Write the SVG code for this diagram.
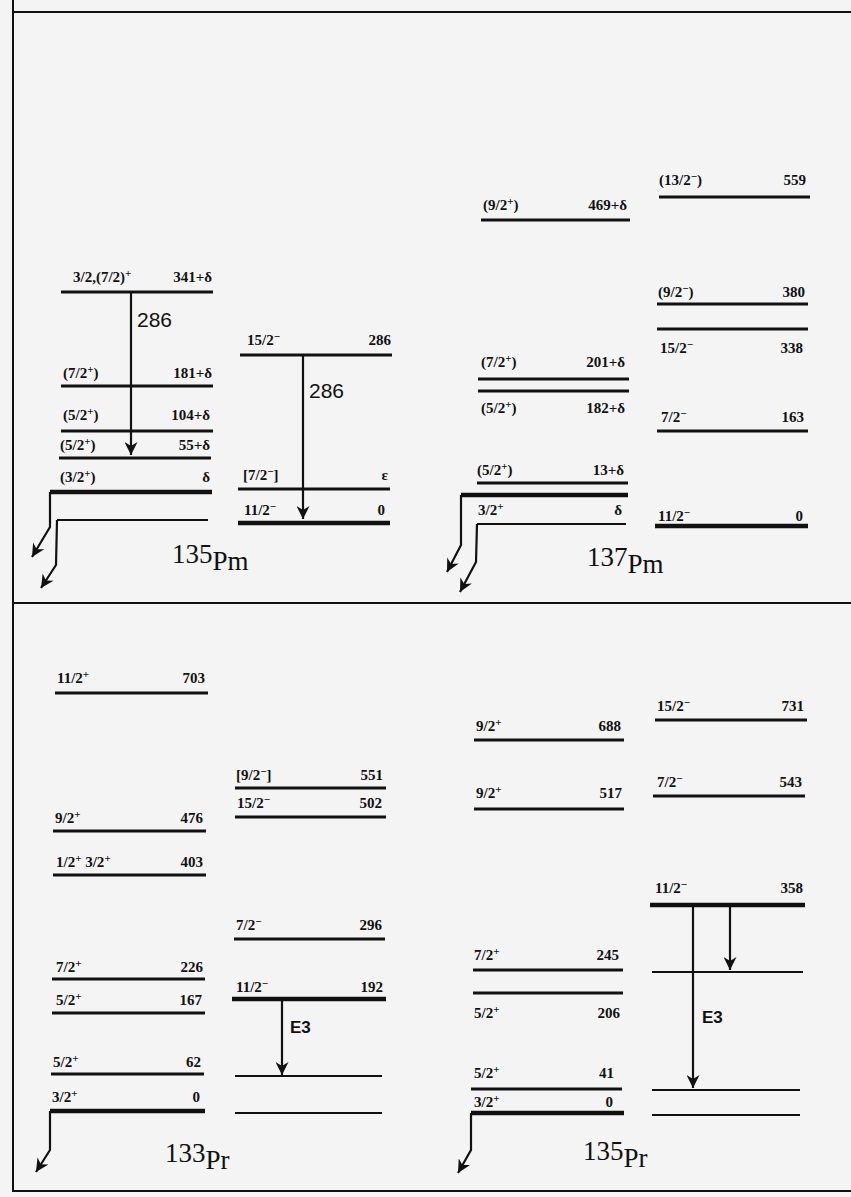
<svg xmlns="http://www.w3.org/2000/svg" width="851" height="1197" viewBox="0 0 851 1197">
<style>
.bg{fill:#f4f4f4}
.frame{stroke:#111;stroke-width:2;fill:none}
.lv{stroke:#111;stroke-width:3;fill:none}
.gs{stroke:#111;stroke-width:4.5;fill:none}
.tn{stroke:#111;stroke-width:2;fill:none}
.tr{stroke:#111;stroke-width:2.2;fill:none}
.lb{font-family:"Liberation Serif",serif;font-size:15px;font-weight:bold;fill:#111}
.en{font-family:"Liberation Serif",serif;font-size:15px;font-weight:bold;fill:#111;text-anchor:end}
.ga{font-family:"Liberation Sans",sans-serif;font-size:21px;fill:#111}
.e3{font-family:"Liberation Sans",sans-serif;font-size:17px;font-weight:bold;fill:#111}
.iso{font-family:"Liberation Serif",serif;font-size:27px;fill:#111}
.s{font-size:11px}
</style>
<defs>
<marker id="ah" viewBox="0 0 10 10" refX="10" refY="5" markerWidth="16" markerHeight="13" markerUnits="userSpaceOnUse" orient="auto">
<path d="M0,0 L10,5 L0,10 L3,5 z" fill="#111"/>
</marker>
</defs>
<rect class="bg" x="0" y="0" width="851" height="1197"/>
<g id="frame">
<line class="frame" x1="13" y1="12" x2="851" y2="12"/>
<line class="frame" x1="13" y1="0" x2="13" y2="1192"/>
<line class="frame" x1="13" y1="603" x2="851" y2="603"/>
<line class="frame" x1="13" y1="1191" x2="851" y2="1191"/>
</g>

<!-- 135Pm -->
<g id="pm135-left">
<line class="lv" x1="61" y1="292" x2="213" y2="292"/>
<text class="lb" x="73" y="282">3/2,(7/2)<tspan class="s" dy="-5">+</tspan></text>
<text class="en" x="212" y="282">341+δ</text>
<line class="lv" x1="61" y1="386" x2="213" y2="386"/>
<text class="lb" x="63" y="378">(7/2<tspan class="s" dy="-5">+</tspan><tspan dy="5">)</tspan></text>
<text class="en" x="212" y="378">181+δ</text>
<line class="lv" x1="61" y1="431" x2="213" y2="431"/>
<text class="lb" x="63" y="420">(5/2<tspan class="s" dy="-5">+</tspan><tspan dy="5">)</tspan></text>
<text class="en" x="210" y="420">104+δ</text>
<line class="lv" x1="59" y1="458" x2="211" y2="458"/>
<text class="lb" x="60" y="450">(5/2<tspan class="s" dy="-5">+</tspan><tspan dy="5">)</tspan></text>
<text class="en" x="210" y="450">55+δ</text>
<line class="gs" x1="50" y1="492" x2="212" y2="492"/>
<text class="lb" x="60" y="482">(3/2<tspan class="s" dy="-5">+</tspan><tspan dy="5">)</tspan></text>
<text class="en" x="210" y="482">δ</text>
<line class="tn" x1="57" y1="520" x2="208" y2="520"/>
</g>
<g id="pm135-right">
<line class="lv" x1="240" y1="355" x2="392" y2="355"/>
<text class="lb" x="247" y="345">15/2<tspan class="s" dy="-5">−</tspan></text>
<text class="en" x="391" y="345">286</text>
<line class="lv" x1="238" y1="489" x2="390" y2="489"/>
<text class="lb" x="243" y="480">[7/2<tspan class="s" dy="-5">−</tspan><tspan dy="5">]</tspan></text>
<text class="en" x="388" y="480">ε</text>
<line class="gs" x1="238" y1="523" x2="390" y2="523"/>
<text class="lb" x="244" y="515">11/2<tspan class="s" dy="-5">−</tspan></text>
<text class="en" x="385" y="515">0</text>
</g>
<g id="pm135-label">
<text class="iso" x="172" y="563">135<tspan dy="7">Pm</tspan></text>
</g>

<!-- 137Pm -->
<g id="pm137-left">
<line class="lv" x1="481" y1="220" x2="630" y2="220"/>
<text class="lb" x="483" y="210">(9/2<tspan class="s" dy="-5">+</tspan><tspan dy="5">)</tspan></text>
<text class="en" x="627" y="210">469+δ</text>
<line class="lv" x1="478" y1="379" x2="629" y2="379"/>
<line class="lv" x1="478" y1="391" x2="629" y2="391"/>
<text class="lb" x="481" y="367">(7/2<tspan class="s" dy="-5">+</tspan><tspan dy="5">)</tspan></text>
<text class="en" x="625" y="367">201+δ</text>
<text class="lb" x="481" y="413">(5/2<tspan class="s" dy="-5">+</tspan><tspan dy="5">)</tspan></text>
<text class="en" x="625" y="413">182+δ</text>
<line class="lv" x1="477" y1="483" x2="628" y2="483"/>
<text class="lb" x="477" y="475">(5/2<tspan class="s" dy="-5">+</tspan><tspan dy="5">)</tspan></text>
<text class="en" x="624" y="475">13+δ</text>
<line class="gs" x1="461" y1="495" x2="628" y2="495"/>
<text class="lb" x="478" y="515">3/2<tspan class="s" dy="-5">+</tspan></text>
<text class="en" x="622" y="515">δ</text>
<line class="tn" x1="477" y1="524" x2="626" y2="524"/>
</g>
<g id="pm137-right">
<line class="lv" x1="659" y1="197" x2="810" y2="197"/>
<text class="lb" x="659" y="185">(13/2<tspan class="s" dy="-5">−</tspan><tspan dy="5">)</tspan></text>
<text class="en" x="806" y="185">559</text>
<line class="lv" x1="657" y1="304" x2="808" y2="304"/>
<text class="lb" x="658" y="297">(9/2<tspan class="s" dy="-5">−</tspan><tspan dy="5">)</tspan></text>
<text class="en" x="805" y="297">380</text>
<line class="lv" x1="657" y1="329" x2="808" y2="329"/>
<text class="lb" x="660" y="353">15/2<tspan class="s" dy="-5">−</tspan></text>
<text class="en" x="803" y="353">338</text>
<line class="lv" x1="657" y1="431" x2="808" y2="431"/>
<text class="lb" x="661" y="422">7/2<tspan class="s" dy="-5">−</tspan></text>
<text class="en" x="804" y="422">163</text>
<line class="gs" x1="655" y1="526" x2="808" y2="526"/>
<text class="lb" x="658" y="521">11/2<tspan class="s" dy="-5">−</tspan></text>
<text class="en" x="803" y="521">0</text>
</g>
<g id="pm137-label">
<text class="iso" x="587" y="566">137<tspan dy="7">Pm</tspan></text>
</g>

<!-- 133Pr -->
<g id="pr133-left">
<line class="lv" x1="55" y1="693" x2="208" y2="693"/>
<text class="lb" x="57" y="683">11/2<tspan class="s" dy="-5">+</tspan></text>
<text class="en" x="205" y="683">703</text>
<line class="lv" x1="53" y1="831" x2="206" y2="831"/>
<text class="lb" x="55" y="823">9/2<tspan class="s" dy="-5">+</tspan></text>
<text class="en" x="203" y="823">476</text>
<line class="lv" x1="53" y1="875" x2="206" y2="875"/>
<text class="lb" x="56" y="867">1/2<tspan class="s" dy="-5">+</tspan><tspan dy="5"> 3/2</tspan><tspan class="s" dy="-5">+</tspan></text>
<text class="en" x="203" y="867">403</text>
<line class="lv" x1="52" y1="979" x2="205" y2="979"/>
<text class="lb" x="56" y="972">7/2<tspan class="s" dy="-5">+</tspan></text>
<text class="en" x="203" y="972">226</text>
<line class="lv" x1="52" y1="1013" x2="205" y2="1013"/>
<text class="lb" x="56" y="1005">5/2<tspan class="s" dy="-5">+</tspan></text>
<text class="en" x="202" y="1005">167</text>
<line class="lv" x1="51" y1="1074" x2="204" y2="1074"/>
<text class="lb" x="53" y="1067">5/2<tspan class="s" dy="-5">+</tspan></text>
<text class="en" x="201" y="1067">62</text>
<line class="gs" x1="50" y1="1111" x2="205" y2="1111"/>
<text class="lb" x="52" y="1102">3/2<tspan class="s" dy="-5">+</tspan></text>
<text class="en" x="200" y="1102">0</text>
</g>
<g id="pr133-right">
<line class="lv" x1="235" y1="788" x2="386" y2="788"/>
<text class="lb" x="236" y="780">[9/2<tspan class="s" dy="-5">−</tspan><tspan dy="5">]</tspan></text>
<text class="en" x="383" y="780">551</text>
<line class="lv" x1="235" y1="817" x2="386" y2="817"/>
<text class="lb" x="237" y="808">15/2<tspan class="s" dy="-5">−</tspan></text>
<text class="en" x="382" y="808">502</text>
<line class="lv" x1="234" y1="939" x2="385" y2="939"/>
<text class="lb" x="236" y="930">7/2<tspan class="s" dy="-5">−</tspan></text>
<text class="en" x="382" y="930">296</text>
<line class="gs" x1="232" y1="999" x2="386" y2="999"/>
<text class="lb" x="236" y="992">11/2<tspan class="s" dy="-5">−</tspan></text>
<text class="en" x="383" y="992">192</text>
<line class="tn" x1="235" y1="1076" x2="382" y2="1076"/>
<line class="tn" x1="235" y1="1113" x2="382" y2="1113" stroke-width="1.5"/>
</g>
<g id="pr133-label">
<text class="iso" x="165" y="1162">133<tspan dy="7">Pr</tspan></text>
</g>

<!-- 135Pr -->
<g id="pr135-left">
<line class="lv" x1="474" y1="740" x2="624" y2="740"/>
<text class="lb" x="476" y="731">9/2<tspan class="s" dy="-5">+</tspan></text>
<text class="en" x="621" y="731">688</text>
<line class="lv" x1="474" y1="809" x2="624" y2="809"/>
<text class="lb" x="476" y="798">9/2<tspan class="s" dy="-5">+</tspan></text>
<text class="en" x="622" y="798">517</text>
<line class="lv" x1="473" y1="970" x2="623" y2="970"/>
<text class="lb" x="474" y="960">7/2<tspan class="s" dy="-5">+</tspan></text>
<text class="en" x="619" y="960">245</text>
<line class="lv" x1="473" y1="993" x2="623" y2="993"/>
<text class="lb" x="474" y="1018">5/2<tspan class="s" dy="-5">+</tspan></text>
<text class="en" x="620" y="1018">206</text>
<line class="lv" x1="471" y1="1089" x2="622" y2="1089"/>
<text class="lb" x="474" y="1078">5/2<tspan class="s" dy="-5">+</tspan></text>
<text class="en" x="614" y="1078">41</text>
<line class="gs" x1="471" y1="1113" x2="624" y2="1113"/>
<text class="lb" x="474" y="1107">3/2<tspan class="s" dy="-5">+</tspan></text>
<text class="en" x="613" y="1107">0</text>
</g>
<g id="pr135-right">
<line class="lv" x1="655" y1="720" x2="807" y2="720"/>
<text class="lb" x="657" y="711">15/2<tspan class="s" dy="-5">−</tspan></text>
<text class="en" x="804" y="711">731</text>
<line class="lv" x1="653" y1="796" x2="805" y2="796"/>
<text class="lb" x="657" y="787">7/2<tspan class="s" dy="-5">−</tspan></text>
<text class="en" x="802" y="787">543</text>
<line class="gs" x1="650" y1="905" x2="805" y2="905"/>
<text class="lb" x="655" y="893">11/2<tspan class="s" dy="-5">−</tspan></text>
<text class="en" x="803" y="893">358</text>
<line class="tn" x1="652" y1="972" x2="803" y2="972" stroke-width="2.5"/>
<line class="tn" x1="652" y1="1090" x2="800" y2="1090"/>
<line class="tn" x1="652" y1="1115" x2="800" y2="1115"/>
</g>
<g id="pr135-label">
<text class="iso" x="583" y="1160">135<tspan dy="7">Pr</tspan></text>
</g>

<g id="connectors">
<line class="tr" x1="131" y1="292" x2="131" y2="455" marker-end="url(#ah)"/>
<text class="ga" x="137" y="327">286</text>
<line class="tr" x1="303" y1="355" x2="303" y2="519" marker-end="url(#ah)"/>
<text class="ga" x="309" y="398">286</text>
<polyline class="tr" points="50,492 50,527 32,557" marker-end="url(#ah)"/>
<polyline class="tr" points="57,520 56,565 41,588" marker-end="url(#ah)"/>
<polyline class="tr" points="461,495 461,545 447,572" marker-end="url(#ah)"/>
<polyline class="tr" points="477,524 476,562 460,592" marker-end="url(#ah)"/>
<line class="tr" x1="282" y1="999" x2="282" y2="1075" marker-end="url(#ah)"/>
<text class="e3" x="290" y="1033">E3</text>
<line class="tr" x1="730" y1="905" x2="730" y2="970" marker-end="url(#ah)"/>
<line class="tr" x1="693" y1="905" x2="693" y2="1088" marker-end="url(#ah)"/>
<text class="e3" x="702" y="1023">E3</text>
<polyline class="tr" points="50,1111 50,1150 36,1172" marker-end="url(#ah)"/>
<polyline class="tr" points="471,1113 471,1150 458,1173" marker-end="url(#ah)"/>
</g>
</svg>
